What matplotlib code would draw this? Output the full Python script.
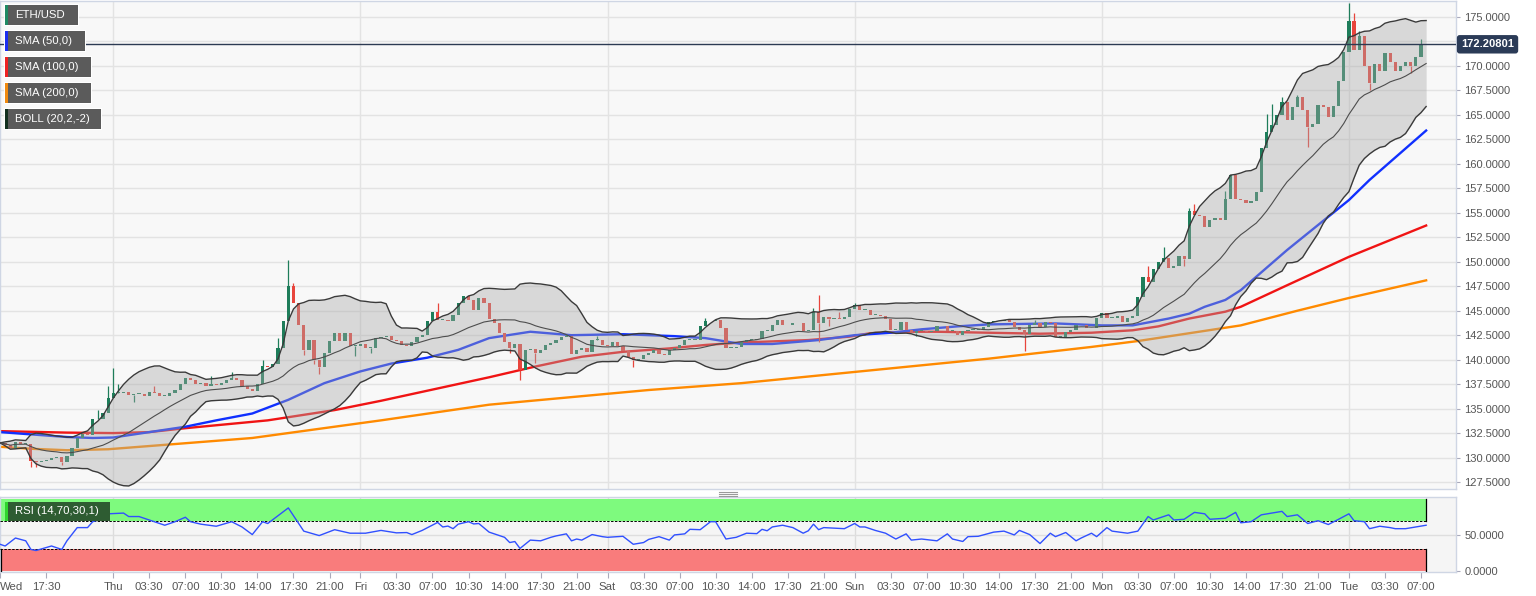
import numpy as np
import pandas as pd
import matplotlib
matplotlib.use("Agg")
import matplotlib.pyplot as plt
from matplotlib.patches import Rectangle
from matplotlib.lines import Line2D
import matplotlib.transforms as mtransforms

plt.rcParams['font.family'] = ['Liberation Sans', 'DejaVu Sans']

# ETH/USD 30-minute candles, Wed 13:00 -> Tue 07:30 (index 0 = Wed 13:00)
first_open = 131.6
closes = [
    131.5, 131.3, 131.0, 131.6, 131.4, 131.4, 129.7, 129.5, 129.7, 129.8,
    130.0, 130.1, 129.5, 130.2, 131.0, 132.0, 132.4, 132.3, 133.9, 133.9,
    134.6, 136.1, 136.6, 136.6, 136.7, 136.4, 136.5, 136.5, 136.3, 136.7,
    136.6, 136.3, 136.3, 136.6, 136.9, 137.5, 138.1, 137.9, 137.5, 137.6,
    137.3, 137.5, 137.4, 137.6, 137.9, 138.1, 137.9,
    137.3, 137.0, 136.8, 137.5, 139.4, 139.2, 139.6, 141.2, 143.9, 147.5,
    145.8, 143.5, 141.0, 142.0, 140.0, 139.3, 140.7, 141.9, 142.7, 141.9,
    142.7, 141.4, 141.4, 141.6, 141.2, 141.2, 142.2, 142.3, 142.4, 142.0,
    141.9, 141.5, 141.4, 141.8, 142.3, 142.5, 143.9, 144.9, 144.1, 144.1,
    143.9, 144.6, 145.8, 146.5, 146.1, 145.1, 146.3, 145.8, 144.2,
    143.7, 142.7, 141.8, 141.2, 141.6, 138.9, 141.0, 141.1, 140.7, 141.0,
    141.5, 141.7, 142.0, 142.3, 142.4, 140.6, 141.0, 141.2, 140.8, 142.0,
    142.0, 141.5, 141.4, 141.8, 141.4, 140.9, 140.3, 140.0, 140.1, 140.5,
    140.7, 141.0, 140.6, 140.5, 141.0, 141.2, 141.5, 142.0, 142.0, 142.0,
    143.4, 143.9, 143.9, 144.0, 143.2, 141.2, 141.2, 141.3,
    141.8, 142.0, 142.0, 142.1, 142.9, 142.9, 143.5, 144.0, 143.5, 143.5,
    143.7, 143.7, 142.9, 143.0, 144.9, 143.7, 144.4, 144.2, 144.3, 144.2,
    144.4, 145.2, 145.6, 145.1, 145.1, 144.6, 144.6, 144.5, 144.2, 143.0,
    143.0, 143.8, 143.0, 142.7, 142.9, 142.9, 142.8, 142.9, 143.4, 143.4,
    142.9, 142.9, 142.5, 142.9, 143.0, 143.0, 143.0, 143.3,
    143.8, 143.9, 143.9, 144.1, 143.8, 143.3, 143.0, 142.6, 143.5, 143.7,
    143.3, 143.8, 143.7, 142.3, 142.3, 142.8, 143.0, 143.5, 143.5, 143.2,
    143.2, 144.3, 144.8, 144.3, 144.3, 144.5, 143.8, 144.3, 144.5, 146.4,
    148.4, 147.9, 149.3, 150.0, 150.4, 149.4, 149.6, 150.6, 150.3, 155.2,
    154.8, 154.7, 153.5, 154.3, 154.5, 154.3, 156.4, 158.9, 156.4,
    156.3, 156.0, 156.2, 157.1,
    161.6, 163.3, 164.0, 165.0, 166.3, 164.5, 165.8, 166.8, 165.5, 163.8,
    164.1, 166.0, 165.8, 164.8, 165.9, 168.5, 171.4, 174.6, 171.6, 173.1,
    170.0, 168.3, 170.2, 169.5, 171.3, 170.4, 169.5, 170.0, 170.4, 170.0,
    170.9, 172.25, 172.208,
]
wick_highs = {19: 134.9, 21: 137.3, 22: 139.1, 23: 137.5, 30: 137.3, 41: 138.3,
              45: 138.7, 51: 140.0, 54: 142.2, 56: 150.2, 57: 147.8, 58: 145.8,
              85: 145.8, 110: 142.6, 116: 142.4, 137: 144.3, 158: 145.3,
              159: 146.6, 163: 144.9, 166: 145.8, 201: 144.0, 223: 149.6,
              226: 151.5, 231: 155.5, 232: 155.9, 238: 157.2, 246: 165.1,
              247: 166.1, 249: 166.8, 252: 167.0, 262: 176.4, 263: 175.4,
              264: 173.6, 276: 172.7}
wick_lows = {6: 129.0, 7: 129.0, 12: 129.2, 26: 135.7, 59: 140.5, 61: 139.6,
             62: 138.5, 69: 140.4, 72: 140.7, 99: 140.7, 101: 137.9, 104: 139.7,
             123: 139.3, 159: 141.8, 161: 143.4, 178: 142.4, 199: 140.9,
             230: 149.6, 254: 161.7, 266: 167.5, 274: 169.3}

# moving averages (candle index, price)
sma50_idx = [0, 13, 18, 22, 29, 36, 42, 49, 56, 63, 70, 76, 83, 89, 95, 103, 111, 121,
             131, 137, 144, 150, 159, 166, 173, 179, 186, 192, 205, 214, 220, 223,
             227, 231, 234, 238, 241, 250, 262, 266, 277]
sma50_val = [132.6, 132.1, 132.0, 132.05, 132.6, 133.15, 133.8, 134.5, 135.9, 137.6,
             138.8, 139.6, 140.2, 141.0, 142.2, 142.85, 142.5, 142.6, 142.4, 142.2,
             141.6, 141.6, 142.0, 142.5, 142.75, 143.1, 143.4, 143.6, 143.7, 143.5,
             143.5, 143.8, 144.2, 144.7, 145.4, 146.1, 147.1, 151.2, 156.3, 158.35,
             163.4]
sma100_idx = [0, 13, 22, 29, 36, 52, 65, 74, 95, 104, 113, 121, 130, 137, 144, 157,
              165, 169, 176, 182, 192, 202, 212, 220, 225, 231, 238, 241, 250, 262, 277]
sma100_val = [132.7, 132.55, 132.5, 132.6, 133.0, 133.8, 134.85, 135.8, 138.2, 139.3,
              140.3, 140.8, 141.15, 141.5, 141.75, 142.0, 142.35, 142.7, 142.85,
              142.85, 142.75, 142.65, 142.75, 143.0, 143.4, 144.2, 144.9, 145.4,
              147.6, 150.5, 153.7]
sma200_idx = [0, 6, 13, 21, 32, 49, 74, 95, 126, 144, 192, 212, 221, 231, 241, 252,
              262, 277]
sma200_val = [131.1, 130.9, 130.75, 130.85, 131.3, 132.0, 133.8, 135.4, 136.9, 137.6,
              140.1, 141.3, 141.9, 142.7, 143.5, 145.0, 146.3, 148.1]

# RSI (14)
rsi_idx = [0, 1, 3, 5, 6, 7, 10, 12, 13, 15, 17, 18, 19, 21, 24, 25, 27, 29, 32, 34,
           36, 37, 39, 42, 45, 47, 49, 51, 52, 56, 59, 62, 65, 68, 71, 74, 77, 79, 80,
           82, 85, 86, 87, 88, 89, 91, 92, 93, 95, 98, 99, 100, 101, 103, 105, 107,
           108, 110, 111, 112, 113, 115, 117, 118, 121, 123, 125, 126, 128, 130, 131,
           133, 134, 136, 138, 139, 141, 143, 145, 147, 148, 149, 150, 152, 154, 156,
           157, 158, 159, 160, 164, 166, 167, 168, 170, 172, 174, 176, 177, 179, 182,
           184, 185, 187, 188, 190, 193, 195, 197, 198, 200, 201, 202, 204, 205, 207,
           209, 210, 212, 213, 215, 216, 219, 221, 223, 224, 227, 228, 230, 232, 234,
           235, 238, 240, 241, 243, 245, 249, 250, 252, 254, 256, 258, 260, 262, 263,
           265, 266, 268, 270, 271, 273, 275, 277]
rsi_val = [37.2, 34.8, 45.9, 42.0, 30.0, 28.5, 34.8, 30.0, 42.0, 60.4, 60.4, 68.6, 71.0,
           79.6, 80.6, 75.8, 75.8, 71.0, 63.7, 68.6, 74.8, 68.6, 65.2, 62.3, 68.6, 61.3,
           50.7, 68.6, 66.1, 87.8, 55.5, 49.3, 57.5, 52.6, 52.6, 56.5, 53.1, 53.5, 50.7,
           56.5, 67.6, 61.3, 62.5, 58.9, 65.2, 68.6, 65.5, 66.1, 54.1, 46.9, 39.6, 41.0,
           31.4, 43.0, 42.0, 46.9, 48.8, 51.7, 42.0, 44.5, 43.0, 50.7, 47.8, 46.9, 48.3,
           37.2, 39.6, 44.0, 47.8, 43.0, 50.2, 51.7, 58.0, 57.5, 68.6, 68.6, 44.5, 46.9,
           52.6, 52.0, 58.0, 56.0, 61.3, 63.7, 60.4, 52.6, 56.0, 65.2, 57.5, 60.4, 58.9,
           66.1, 61.3, 61.3, 56.5, 52.6, 44.5, 51.7, 43.0, 44.5, 42.0, 51.7, 44.5, 41.1,
           47.8, 48.3, 54.1, 55.5, 50.2, 56.5, 50.7, 44.5, 38.2, 52.6, 47.8, 53.6, 42.0,
           45.9, 52.6, 47.8, 60.4, 55.5, 52.6, 55.5, 75.8, 71.0, 78.2, 71.0, 72.0, 81.6,
           79.6, 72.0, 73.4, 81.6, 67.1, 68.6, 78.2, 83.0, 75.8, 78.2, 66.1, 70.0, 64.7,
           72.0, 79.6, 70.0, 68.6, 58.9, 62.3, 60.4, 58.9, 58.9, 61.3, 63.7]

last_price = 172.20801
price_ticks = np.arange(127.5, 175.01, 2.5)
day_names = ['Thu', 'Fri', 'Sat', 'Sun', 'Mon', 'Tue']
hour_names = ['03:30', '07:00', '10:30', '14:00', '17:30', '21:00']
legend_items = [('ETH/USD', '#1f8a64', 73), ('SMA (50,0)', '#1a2ef0', 80),
                ('SMA (100,0)', '#ee2222', 86), ('SMA (200,0)', '#f08a10', 86),
                ('BOLL (20,2,-2)', '#13301f', 96)]

W, H = 1536, 596
fig = plt.figure(figsize=(W / 100, H / 100), dpi=100)
ax = fig.add_axes([0, 1 - 489 / H, 1456 / W, 488 / H])
ax_rsi = fig.add_axes([0, 1 - 572 / H, 1456 / W, 75 / H], sharex=ax)

c = np.array(closes)
o = np.concatenate([[first_open], c[:-1]])
idx = np.arange(len(c))
up = c >= o
green, red = '#1e7d5a', '#e8453c'
cols = np.where(up, green, red)

ax.set_facecolor('#f8f8f8')
ax.set_ylim(126.79, 176.63)

# candles
bottoms = np.minimum(o, c)
heights = np.maximum(np.abs(c - o), 0.08)
ax.bar(idx, heights, bottom=bottoms, width=0.62, color=cols, linewidth=0, zorder=3)
for i, h in wick_highs.items():
    ax.vlines(i, max(o[i], c[i]), h, color=cols[i], lw=0.9, zorder=2.9)
for i, l in wick_lows.items():
    ax.vlines(i, l, min(o[i], c[i]), color=cols[i], lw=0.9, zorder=2.9)

# moving averages
ax.plot(sma200_idx, sma200_val, color='#ff8a00', lw=1.7, zorder=2)
ax.plot(sma100_idx, sma100_val, color='#f01414', lw=1.7, zorder=2)
ax.plot(sma50_idx, sma50_val, color='#1030ff', lw=1.7, zorder=2)

# bollinger bands (20, 2)
s = pd.Series(c)
mid = s.rolling(20, min_periods=1).mean()
sd = s.rolling(20, min_periods=1).std(ddof=0)
upper, lower = mid + 2 * sd, mid - 2 * sd
ax.fill_between(idx, lower, upper, color='#a9a9a9', alpha=0.4, lw=0, zorder=4)
ax.plot(idx, upper, color='#3a3a3a', lw=1.0, zorder=5)
ax.plot(idx, lower, color='#3a3a3a', lw=1.0, zorder=5)
ax.plot(idx, mid, color='#4d4d4d', lw=0.8, zorder=5)

# last price line and tag
ax.axhline(last_price, color='#2c3a52', lw=1.0, zorder=9)
tr = mtransforms.blended_transform_factory(ax.transAxes, ax.transData)
ax.text(1.0035, last_price, '%.5f' % last_price, transform=tr, ha='left', va='center',
        fontsize=8.0, fontweight='bold', color='white', clip_on=False, zorder=20,
        bbox=dict(boxstyle='round,pad=0.38,rounding_size=0.25', fc='#2b3b57', ec='none'))

# grids and price axis (172.5 label sits under the price tag)
ax.set_yticks(price_ticks)
ax.set_yticklabels(['' if abs(v - 172.5) < 0.01 else '%.4f' % v for v in price_ticks])
ax.yaxis.tick_right()
ax.yaxis.grid(True, color='#e3e3e3', lw=1.0, zorder=0)
ax.set_axisbelow(True)
ax.tick_params(axis='y', length=3, color='#aab', labelcolor='#555555', labelsize=8.0, pad=3)
ax.tick_params(axis='x', bottom=False, labelbottom=False)

day_pos = [22 + 48 * d for d in range(len(day_names))]
for p in day_pos:
    ax.axvline(p, color='#e3e3e3', lw=1.0, zorder=0.5)
    ax_rsi.axvline(p, color='#dcdcdc', lw=1.0, zorder=0.5)

for a in (ax, ax_rsi):
    for sp in a.spines.values():
        sp.set_color('#cfd6e4')
        sp.set_linewidth(1.0)

# RSI panel
ax_rsi.set_facecolor('#f5f5f5')
ax_rsi.set_ylim(-1.4, 103)
last_i = idx[-1]
ax_rsi.fill_between([0, last_i], 70, 100, color='#7efa7e', lw=0, zorder=1)
ax_rsi.fill_between([0, last_i], 0, 30, color='#f97c7c', lw=0, zorder=1)
ax_rsi.plot([0, last_i], [70, 70], color='black', lw=0.7, ls=(0, (2.5, 1.5)), zorder=3)
ax_rsi.plot([0, last_i], [30, 30], color='black', lw=0.7, ls=(0, (2.5, 1.5)), zorder=3)
ax_rsi.plot([last_i, last_i], [70, 100], color='black', lw=0.9, zorder=3)
ax_rsi.plot([last_i, last_i], [0, 30], color='black', lw=0.9, zorder=3)
ax_rsi.plot([0.15, 0.15], [0, 30], color='black', lw=0.9, zorder=3)
ax_rsi.axhline(50, color='#dedede', lw=1.0, zorder=0.6)
ax_rsi.plot(rsi_idx, rsi_val, color='#3050ff', lw=1.0, zorder=5)
ax_rsi.yaxis.tick_right()
ax_rsi.set_yticks([0, 50])
ax_rsi.set_yticklabels(['0.0000', '50.0000'])
ax_rsi.tick_params(axis='y', length=3, color='#aab', labelcolor='#555555', labelsize=8.0, pad=3)

# time axis labels
xt, xl = [0, 9], ['Wed', '17:30']
for d, name in enumerate(day_names):
    xt.append(day_pos[d])
    xl.append(name)
    for k, hn in enumerate(hour_names):
        p = day_pos[d] + 7 * (k + 1)
        if p <= 277:
            xt.append(p)
            xl.append(hn)
ax_rsi.set_xticks(xt)
ax_rsi.set_xticklabels(xl)
ax_rsi.tick_params(axis='x', length=4, color='#aab', labelcolor='#555555', labelsize=8.2, pad=3)
ax_rsi.get_xticklabels()[0].set_ha('left')
ax.set_xlim(0, 282.8)


# legend boxes (pixel positions)
def px_rect(x, y, w, h, **kw):
    fig.patches.append(Rectangle((x / W, 1 - (y + h) / H), w / W, h / H,
                                 transform=fig.transFigure, **kw))


for n, (label, col, wd) in enumerate(legend_items):
    y0 = 5 + 26 * n
    px_rect(4, y0 - 1, wd + 2, 22, fc='white', ec='none', zorder=5)
    px_rect(5, y0, wd, 20, fc='#5b5b5b', ec='none', zorder=6)
    px_rect(5, y0, 2.5, 20, fc=col, ec='none', zorder=7)
    fig.text(15 / W, 1 - (y0 + 10.5) / H, label, color='white', fontsize=8.2,
             va='center', ha='left', zorder=8)

px_rect(5, 502, 105, 19, fc='#2e5c32', ec='none', zorder=6)
px_rect(5, 502, 2.5, 19, fc='#2fd42f', ec='none', zorder=7)
fig.text(15 / W, 1 - 511.5 / H, 'RSI (14,70,30,1)', color='white', fontsize=8.2,
         va='center', ha='left', zorder=8)

# panel resize handle
for yy in (491.5, 493.5, 495.5):
    fig.lines.append(Line2D([719 / W, 737 / W], [1 - yy / H, 1 - yy / H],
                            transform=fig.transFigure, color='#9a9a9a', lw=0.8))

fig.savefig('out.png', dpi=100, facecolor='white')
